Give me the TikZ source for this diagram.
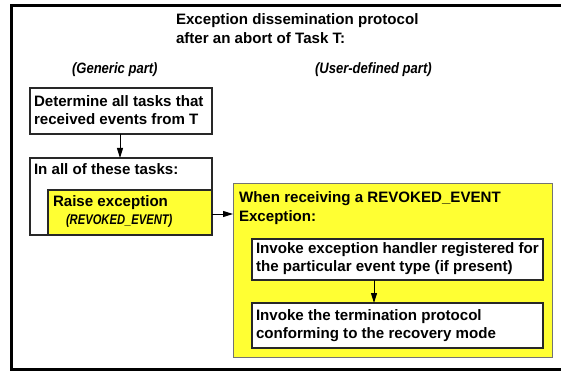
\documentclass[tikz,border=0pt]{standalone}
\usepackage{fontspec}
\setmainfont{Liberation Sans}
\newfontfamily\narrowfont[FakeStretch=0.87]{Liberation Sans}
\newfontfamily\tightfont[FakeStretch=0.8]{Liberation Sans}
\usetikzlibrary{arrows.meta}
\definecolor{hiyellow}{RGB}{255,255,51}
\definecolor{boxline}{RGB}{40,40,40}
\tikzset{
  txt/.style={inner sep=0pt, outer sep=0pt, anchor=base west, font=\fontsize{15.1}{18}\selectfont\bfseries},
  lbl/.style={inner sep=0pt, outer sep=0pt, anchor=base west, font=\fontsize{15}{18}\selectfont\narrowfont\bfseries\itshape},
  tag/.style={inner sep=0pt, outer sep=0pt, anchor=base west, font=\fontsize{14}{18}\selectfont\tightfont\bfseries\itshape},
  box/.style={draw=boxline, line width=1.1pt, fill=white, inner sep=0pt, outer sep=0pt, anchor=north west},
  ybox/.style={box, fill=hiyellow},
  bigbox/.style={box, draw=black!55, line width=1pt, fill=hiyellow},
  arr/.style={draw=black, line width=1pt, -{Triangle[length=10pt,width=6pt]}}
}
\begin{document}
\begin{tikzpicture}[x=1pt,y=-1pt]
\useasboundingbox (0,0) rectangle (561,371);
% outer frame, open to the right
\draw[line width=3pt] (570,6) -- (11.5,6) -- (11.5,369.5) -- (570,369.5);

% heading
\node[txt] (title1) at (176,25) {Exception dissemination protocol};
\node[txt] (title2) at (176,44) {after an abort of Task T:};
\node[lbl] (generic) at (72,74) {(Generic part)};
\node[lbl] (userdef) at (315,74) {(User-defined part)};

% generic part
\node[box, minimum width=182pt, minimum height=46pt] (determine) at (30,88) {};
\node[txt] (det1) at (34,107) {Determine all tasks that};
\node[txt] (det2) at (34,125) {received events from T};

\node[box, minimum width=182pt, minimum height=77pt] (alltasks) at (30,158) {};
\node[txt] (all1) at (34,175) {In all of these tasks:};

\node[ybox, minimum width=164pt, minimum height=45pt] (raise) at (48,190) {};
\node[txt] (raise1) at (53,207) {Raise exception};
\node[tag] (raise2) at (66,224) {(REVOKED\_EVENT)};

% user-defined part
\node[bigbox, minimum width=319pt, minimum height=173pt] (receive) at (233,184) {};
\node[txt] (rec1) at (239,203) {When receiving a REVOKED\_EVENT};
\node[txt] (rec2) at (239,221) {Exception:};

\node[box, minimum width=291pt, minimum height=41pt] (handler) at (252,239) {};
\node[txt] (han1) at (256,253) {Invoke exception handler registered for};
\node[txt] (han2) at (256,271) {the particular event type (if present)};

\node[box, minimum width=291pt, minimum height=45pt] (terminate) at (252,303) {};
\node[txt] (ter1) at (256,320) {Invoke the termination protocol};
\node[txt] (ter2) at (256,338) {conforming to the recovery mode};

% connectors
\draw[arr] ([xshift=90pt]determine.south west) -- ([xshift=90pt]alltasks.north west);
\draw[arr] ([yshift=-1.5pt]raise.east) -- ([yshift=-1.5pt]receive.west |- raise.east);
\draw[arr] ([xshift=122pt]handler.south west) -- ([xshift=122pt]terminate.north west);
\end{tikzpicture}
\end{document}
